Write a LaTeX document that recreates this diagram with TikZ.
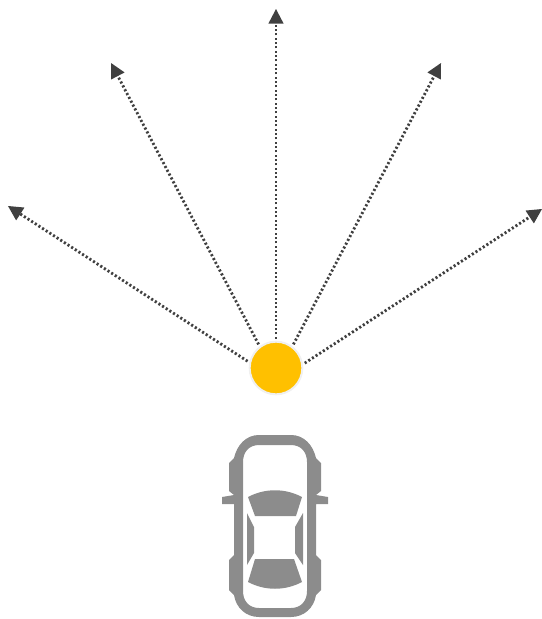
\documentclass[tikz,border=0pt]{standalone}
\usetikzlibrary{arrows.meta}
\definecolor{sunny}{HTML}{FFC000}
\definecolor{ray}{HTML}{404040}
\definecolor{carbody}{HTML}{8C8C8C}
\tikzset{
  sensor/.style={
    shape = circle,
    draw = black!6,
    fill = sunny,
    line width = 1.5pt,
    inner sep = 0pt,
    minimum size = 39.5pt
  },
  beam/.style={
    draw = ray,
    line width = 2.1pt,
    dash pattern = on 1.6pt off 1.65pt,
    shorten <= 1.5pt,
    -{Triangle[length=11pt,width=11.5pt,fill=ray,line width=0pt,sep=0pt]}
  },
  glass/.style={
    fill = carbody,
    draw = none
  },
}
\begin{document}
\begin{tikzpicture}[x=0.75pt,y=-0.75pt]
    \useasboundingbox (0,0) rectangle (542,619);
    \node[sensor] (sun) at (276,368) {};
    \coordinate (tipA) at (8,206);
    \coordinate (tipB) at (111,63);
    \coordinate (tipC) at (276,9);
    \coordinate (tipD) at (441,63);
    \coordinate (tipE) at (542,209);
    \foreach \t/\a in {tipA/168,tipB/127,tipC/90,tipD/53,tipE/8}
      \draw[beam] (sun.\a) -- (\t);
    % car body
    \fill[carbody, even odd rule]
      (259,435) -- (291,435) .. controls (304,435) and (313,445) .. (316,458)
      -- (321,463) -- (321,491) -- (316,495) -- (328,497) -- (328,504) -- (316,504)
      -- (316,555) -- (321,560) -- (321,590) -- (316,595)
      .. controls (314,608) and (304,617) .. (291,617) -- (259,617)
      .. controls (246,617) and (236,608) .. (234,595)
      -- (229,590) -- (229,560) -- (234,555) -- (234,504) -- (222,504) -- (222,497)
      -- (234,495) -- (229,491) -- (229,463) -- (234,458)
      .. controls (237,445) and (246,435) .. (259,435) -- cycle
      (259,445) .. controls (249,445) and (243,452) .. (243,462) -- (243,591)
      .. controls (243,601) and (249,608) .. (259,608) -- (291,608)
      .. controls (301,608) and (307,601) .. (307,591) -- (307,462)
      .. controls (307,452) and (301,445) .. (291,445) -- cycle;
    % windows
    \fill[glass] (248,497) .. controls (265,488) and (285,488) .. (302,497) -- (296,516) -- (255,516) -- cycle;
    \fill[glass] (248,582) .. controls (265,591) and (285,591) .. (302,582) -- (294,559) -- (255,559) -- cycle;
    \fill[glass] (247,513) -- (254,527) -- (254,553) -- (247,565) -- cycle;
    \fill[glass] (303,513) -- (295,527) -- (295,553) -- (303,565) -- cycle;
\end{tikzpicture}
\end{document}
